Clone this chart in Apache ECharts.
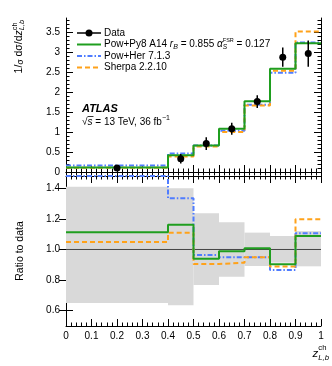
<!DOCTYPE html>
<html><head><meta charset="utf-8">
<script src="https://cdn.jsdelivr.net/npm/echarts@6/dist/echarts.min.js"></script>
<style>html,body{margin:0;padding:0;background:#fff}#c{width:332px;height:366px}</style>
</head><body><div id="c"></div>
<script>
// ---------------- data ----------------
const binEdges = [0, 0.4, 0.5, 0.6, 0.7, 0.8, 0.9, 1.0];
const dataX = [0.2, 0.45, 0.55, 0.65, 0.75, 0.85, 0.95];
const dataY = [0.10, 0.33, 0.71, 1.08, 1.76, 2.87, 2.96];
const dataErr = [0.03, 0.12, 0.16, 0.15, 0.16, 0.24, 0.33];
const py8 = [0.11, 0.42, 0.665, 1.08, 1.77, 2.58, 3.22];
const her = [0.165, 0.46, 0.665, 1.03, 1.68, 2.48, 3.24];
const sherpa = [0.105, 0.39, 0.64, 1.00, 1.66, 2.53, 3.51];
const ratioPy8 = [1.112, 1.162, 0.94, 0.988, 1.008, 0.903, 1.088];
const ratioHer = [1.48, 1.335, 0.964, 0.949, 0.95, 0.866, 1.106];
const ratioSherpa = [1.049, 1.11, 0.905, 0.914, 0.949, 0.888, 1.197];
const bandLo = [0.65, 0.635, 0.768, 0.822, 0.892, 0.914, 0.89];
const bandHi = [1.41, 1.40, 1.237, 1.178, 1.11, 1.088, 1.12];
const xTickLabels = [0, 0.1, 0.2, 0.3, 0.4, 0.5, 0.6, 0.7, 0.8, 0.9, 1];
const yTicksTop = [0, 0.5, 1, 1.5, 2, 2.5, 3, 3.5];
const yTicksRatio = [0.6, 0.8, 1.0, 1.2, 1.4];

// ---------------- helpers ----------------
const FONT = '"Liberation Sans", Arial, Helvetica, sans-serif';
const GREEN = '#1f9e1f', BLUE = '#4f7cff', ORANGE = '#ffa21a';
const cv = document.createElement('canvas').getContext('2d');
function fnt(size, it, b) { return (it ? 'italic ' : '') + (b ? 'bold ' : '') + size + 'px ' + FONT; }
function tw(t, size, it, b) { cv.font = fnt(size, it, b); return cv.measureText(t).width; }
function buildMath(parts, base) {
  let x = 0, pending = 0; const items = [];
  parts.forEach(p => {
    const s = base * (p.f || 1);
    const w = tw(p.t, s, p.it, p.b);
    items.push({ t: p.t, s, it: p.it, b: p.b, x, dy: p.dy || 0, w, over: p.over });
    if (p.noAdv) { pending = w; } else { x += Math.max(w, pending); pending = 0; }
  });
  return { items, width: x };
}
function mathEls(parts, base, x0, y0, align) {
  const m = buildMath(parts, base);
  const sx = align === 'right' ? x0 - m.width : (align === 'center' ? x0 - m.width / 2 : x0);
  const els = [];
  m.items.forEach(it => {
    els.push({ type: 'text', x: sx + it.x, y: y0 + it.dy, silent: true,
      style: { text: it.t, font: fnt(it.s, it.it, it.b), fill: '#000',
        align: 'left', verticalAlign: 'middle', textAlign: 'left', textVerticalAlign: 'middle' } });
    if (it.over) {
      els.push({ type: 'line', silent: true, shape: { x1: sx + it.x, y1: y0 - it.s * 0.55, x2: sx + it.x + it.w + 1, y2: y0 - it.s * 0.55 },
        style: { stroke: '#000', lineWidth: 0.8 } });
    }
  });
  return els;
}
function stepData(v) {
  const d = v.map((y, i) => [binEdges[i], y]);
  d.push([binEdges[binEdges.length - 1], v[v.length - 1]]);
  return d;
}
const minorTop = []; for (let i = -1; i <= 38; i++) minorTop.push(+(i * 0.1).toFixed(2));

// ---------------- layout ----------------
const GL = 66, GW = 255;
const TOP = { top: 18, height: 158 };
const BOT = { top: 176, height: 150 };
const tickLbl = { color: '#000', fontSize: 10, fontFamily: FONT };
const axLine = { show: true, lineStyle: { color: '#000', width: 1 } };

function xAx(grid, pos, labels) {
  return { type: 'value', gridIndex: grid, position: pos, min: 0, max: 1, interval: 0.1,
    axisLine: axLine, splitLine: { show: false },
    axisTick: { show: true, inside: true, length: 7, lineStyle: { color: '#000' } },
    minorTick: { show: true, splitNumber: 5, length: 3.5, lineStyle: { color: '#000' } },
    axisLabel: labels ? Object.assign({ show: true, margin: 5, formatter: v => String(+v.toFixed(1)),
      customValues: xTickLabels }, tickLbl) : { show: false } };
}
function yAx(grid, pos, min, max, ticks, len, labels, fmt, lineShow) {
  return { type: 'value', gridIndex: grid, position: pos, min, max,
    axisLine: lineShow ? axLine : { show: false }, splitLine: { show: false },
    axisTick: { show: true, inside: true, length: len, customValues: ticks, lineStyle: { color: '#000' } },
    axisLabel: labels ? Object.assign({ show: true, margin: 6, customValues: ticks, formatter: fmt }, tickLbl) : { show: false, customValues: ticks } };
}

const chart = echarts.init(document.getElementById('c'), null, { renderer: 'canvas' });

// graphics: legend, labels, titles
const g = [];
const LX1 = 77, LX2 = 101, TX = 104;
const rows = [33, 44.5, 56, 67.5];
g.push({ type: 'line', silent: true, shape: { x1: LX1, y1: rows[0], x2: LX2, y2: rows[0] }, style: { stroke: '#000', lineWidth: 1.5 } });
g.push({ type: 'circle', silent: true, shape: { cx: (LX1 + LX2) / 2, cy: rows[0], r: 3.5 }, style: { fill: '#000' } });
g.push({ type: 'line', silent: true, shape: { x1: LX1, y1: rows[1], x2: LX2, y2: rows[1] }, style: { stroke: GREEN, lineWidth: 2 } });
g.push({ type: 'line', silent: true, shape: { x1: LX1, y1: rows[2], x2: LX2, y2: rows[2] }, style: { stroke: BLUE, lineWidth: 2, lineDash: [5, 2, 1.5, 2] } });
g.push({ type: 'line', silent: true, shape: { x1: LX1, y1: rows[3], x2: LX2, y2: rows[3] }, style: { stroke: ORANGE, lineWidth: 2, lineDash: [5, 3] } });
g.push(...mathEls([{ t: 'Data' }], 10, TX, rows[0]));
g.push(...mathEls([{ t: 'Pow+Py8 A14 ' }, { t: 'r', it: 1 }, { t: 'B', f: 0.7, it: 1, dy: 3 }, { t: ' = 0.855 ' },
  { t: 'α', it: 1 }, { t: 'S', f: 0.65, it: 1, dy: 3, noAdv: 1 }, { t: 'FSR', f: 0.55, dy: -4 }, { t: ' = 0.127' }], 10, TX, rows[1]));
g.push(...mathEls([{ t: 'Pow+Her 7.1.3' }], 10, TX, rows[2]));
g.push(...mathEls([{ t: 'Sherpa 2.2.10' }], 10, TX, rows[3]));
g.push(...mathEls([{ t: 'ATLAS', it: 1, b: 1 }], 11, 82, 109));
g.push(...mathEls([{ t: '√' }, { t: 's', it: 1, over: 1 }, { t: ' = 13 TeV, 36 fb' }, { t: '−1', f: 0.7, dy: -4 }], 10, 82, 122));
// y title (top) rotated
g.push({ type: 'group', x: 19, y: 20, rotation: Math.PI / 2, silent: true,
  children: mathEls([{ t: '1/' }, { t: 'σ', f: 0.8, dy: 2 }, { t: ' d' }, { t: 'σ' }, { t: '/d' }, { t: 'z', it: 1 },
    { t: 'ch', f: 0.7, dy: -4, noAdv: 1 }, { t: 'L,b', f: 0.7, it: 1, dy: 3 }], 10.5, 0, 0, 'right') });
g.push({ type: 'group', x: 20, y: 251, rotation: Math.PI / 2, silent: true,
  children: mathEls([{ t: 'Ratio to data' }], 10.5, 0, 0, 'center') });
g.push(...mathEls([{ t: 'z', it: 1, f: 1.05 }, { t: 'ch', f: 0.7, dy: -6, noAdv: 1 }, { t: 'L,b', f: 0.7, it: 1, dy: 4 }], 11, 329, 354, 'right'));

const band = binEdges.slice(0, -1).map((e, i) => [e, binEdges[i + 1], bandLo[i], bandHi[i]]);
const pts = dataX.map((x, i) => [x, dataY[i], dataErr[i]]);

function stepSeries(v, xi, yi, color, dash, clip) {
  return { type: 'line', step: 'end', xAxisIndex: xi, yAxisIndex: yi, data: stepData(v), symbol: 'none', clip: clip,
    lineStyle: { color, width: 2, type: dash || 'solid' }, silent: true, animation: false, z: 3 };
}

chart.setOption({
  animation: false,
  grid: [
    { left: GL, width: GW, top: TOP.top, height: TOP.height, containLabel: false },
    { left: GL, width: GW, top: BOT.top, height: BOT.height, containLabel: false }
  ],
  xAxis: [xAx(0, 'bottom', false), xAx(0, 'top', false), xAx(1, 'bottom', true), xAx(1, 'top', false)],
  yAxis: [
    yAx(0, 'left', -0.1, 3.85, yTicksTop, 7, true, v => String(v), true),
    yAx(0, 'left', -0.1, 3.85, minorTop, 3.5, false, null, false),
    yAx(0, 'right', -0.1, 3.85, yTicksTop, 7, false, null, true),
    yAx(0, 'right', -0.1, 3.85, minorTop, 3.5, false, null, false),
    yAx(1, 'left', 0.5, 1.48, yTicksRatio, 7, true, v => v.toFixed(1), true),
    yAx(1, 'right', 0.5, 1.48, yTicksRatio, 7, false, null, true)
  ],
  series: [
    stepSeries(her, 0, 0, BLUE, [5, 2, 1.5, 2], true),
    stepSeries(sherpa, 0, 0, ORANGE, [5, 3], true),
    stepSeries(py8, 0, 0, GREEN, null, true),
    { type: 'custom', xAxisIndex: 0, yAxisIndex: 0, data: pts, z: 5, silent: true, encode: { x: 0, y: 1 },
      renderItem: (params, api) => {
        const x = api.value(0), y = api.value(1), e = api.value(2);
        const p = api.coord([x, y]), a = api.coord([x, y - e]), b = api.coord([x, y + e]);
        return { type: 'group', children: [
          { type: 'line', shape: { x1: p[0], y1: a[1], x2: p[0], y2: b[1] }, style: { stroke: '#000', lineWidth: 1.5 } },
          { type: 'circle', shape: { cx: p[0], cy: p[1], r: 3.5 }, style: { fill: '#000' } }] };
      } },
    { type: 'custom', xAxisIndex: 2, yAxisIndex: 4, data: band, z: 1, silent: true, encode: { x: [0, 1], y: [2, 3] },
      renderItem: (params, api) => {
        const a = api.coord([api.value(0), api.value(3)]), b = api.coord([api.value(1), api.value(2)]);
        return { type: 'rect', shape: { x: a[0], y: a[1], width: b[0] - a[0], height: b[1] - a[1] }, style: { fill: '#d9d9d9' } };
      } },
    { type: 'line', xAxisIndex: 2, yAxisIndex: 4, data: [[0, 1], [1, 1]], symbol: 'none', silent: true, z: 2,
      lineStyle: { color: '#444', width: 1 } },
    stepSeries(ratioHer, 2, 4, BLUE, [5, 2, 1.5, 2], false),
    stepSeries(ratioSherpa, 2, 4, ORANGE, [5, 3], true),
    stepSeries(ratioPy8, 2, 4, GREEN, null, true)
  ],
  graphic: g
});
</script></body></html>
